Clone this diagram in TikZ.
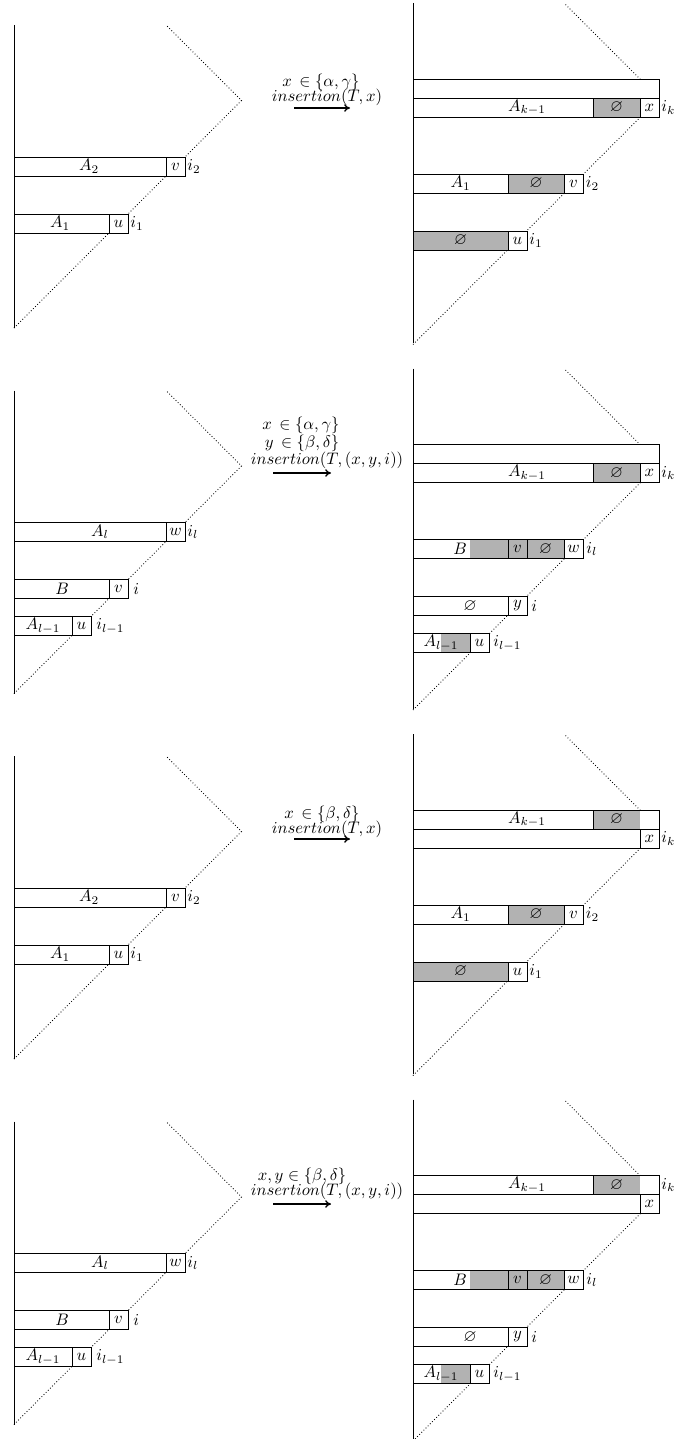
\documentclass[tikz,border=0pt]{standalone}
\usepackage{amssymb}
\usetikzlibrary{arrows.meta}
\tikzset{
  axisline/.style={line width=0.6pt},
  diagline/.style={line width=0.5pt, dash pattern=on 0.5pt off 1.3pt},
  barbox/.style={draw, fill=white, line width=0.5pt},
  graybox/.style={draw, fill=gray!60, line width=0.5pt},
  grayfill/.style={fill=gray!60},
  border/.style={draw, line width=0.5pt},
  lab/.style={inner sep=0pt},
  rlab/.style={inner sep=0pt, anchor=west},
  opar/.style={-{To[length=3.5pt,width=4.5pt]}, line width=0.8pt}
}
% left diagram, two rows (A_2 / A_1)
\newcommand{\leftTwo}[1]{
  \draw[axisline] (14,25) -- (14,328);
  \draw[diagline] (14,328) -- (241.5,100.5) -- (166,25);
  \draw[barbox] (14,157) rectangle (166,176);
  \draw[barbox] (166,157) rectangle (185,176);
  \node[lab] (#1A2) at (89,166.5) {$A_2$};
  \node[lab] (#1v) at (175.5,166.5) {$v$};
  \node[rlab] (#1i2) at (187,166.5) {$i_2$};
  \draw[barbox] (14,214) rectangle (109,233);
  \draw[barbox] (109,214) rectangle (128,233);
  \node[lab] (#1A1) at (60,223.5) {$A_1$};
  \node[lab] (#1u) at (118.5,223.5) {$u$};
  \node[rlab] (#1i1) at (130,223.5) {$i_1$};
}
% left diagram, three rows (A_l / B / A_{l-1})
\newcommand{\leftThree}[1]{
  \draw[axisline] (14,25) -- (14,328);
  \draw[diagline] (14,328) -- (241.5,100.5) -- (166,25);
  \draw[barbox] (14,157) rectangle (166,176);
  \draw[barbox] (166,157) rectangle (185,176);
  \node[lab] (#1Al) at (100,166.5) {$A_l$};
  \node[lab] (#1w) at (175.5,166.5) {$w$};
  \node[rlab] (#1il) at (187,166.5) {$i_l$};
  \draw[barbox] (14,214) rectangle (109,233);
  \draw[barbox] (109,214) rectangle (128,233);
  \node[lab] (#1B) at (62,223.5) {$B$};
  \node[lab] (#1v) at (118.5,223.5) {$v$};
  \node[rlab] (#1i) at (133,223.5) {$i$};
  \draw[barbox] (14,251) rectangle (72,270);
  \draw[barbox] (72,251) rectangle (91,270);
  \node[lab] (#1All) at (43,260.5) {$A_{l-1}$};
  \node[lab] (#1u) at (81.5,260.5) {$u$};
  \node[rlab] (#1ill) at (96,260.5) {$i_{l-1}$};
}
\newcommand{\rightAxis}{
  \draw[axisline] (413,3) -- (413,343);
  \draw[diagline] (413,344.5) -- (659.25,98.25) -- (564,3);
}
% top rows: x below the A_{k-1} row's end (panels 1, 2)
\newcommand{\topRowsA}[1]{
  \draw[barbox] (413,79) rectangle (659,98);
  \draw[barbox] (413,98) rectangle (659,117);
  \node[lab] (#1Ak) at (527,107.5) {$A_{k-1}$};
  \draw[graybox] (593,98) rectangle (640,117);
  \node[lab] (#1e) at (616.5,107.5) {$\varnothing$};
  \draw[barbox] (640,98) rectangle (659,117);
  \node[lab] (#1x) at (649.5,107.5) {$x$};
  \node[rlab] (#1ik) at (661,107.5) {$i_k$};
}
% top rows: A_{k-1} above, x in the row below (panels 3, 4)
\newcommand{\topRowsB}[2]{
  \draw[barbox] (413,79) rectangle (659,98);
  \fill[grayfill] (593,79) rectangle (640,98);
  \draw[border] (413,79) rectangle (659,98);
  \draw[border] (593,79) -- (593,98);
  \node[lab] (#1Ak) at (527,88.5) {$A_{k-1}$};
  \node[lab] (#1e) at (616.5,88.5) {$\varnothing$};
  \draw[barbox] (413,98) rectangle (659,117);
  \draw[barbox] (640,98) rectangle (659,117);
  \node[lab] (#1x) at (649.5,107.5) {$x$};
  \node[rlab] (#1ik) at (661,#2) {$i_k$};
}
% right rows A_1 / empty (panels 1, 3)
\newcommand{\rightTwo}[1]{
  \draw[barbox] (413,174) rectangle (583,193);
  \node[lab] (#1A1) at (460.5,183.5) {$A_1$};
  \draw[graybox] (508,174) rectangle (564,193);
  \node[lab] (#1e1) at (536,183.5) {$\varnothing$};
  \draw[barbox] (564,174) rectangle (583,193);
  \node[lab] (#1v) at (573.5,183.5) {$v$};
  \node[rlab] (#1i2) at (585.5,183.5) {$i_2$};
  \draw[graybox] (413,231) rectangle (508,250);
  \node[lab] (#1e2) at (460.5,240.5) {$\varnothing$};
  \draw[barbox] (508,231) rectangle (527,250);
  \node[lab] (#1u) at (517.5,240.5) {$u$};
  \node[rlab] (#1i1) at (529,240.5) {$i_1$};
}
% right rows B / y / A_{l-1} (panels 2, 4)
\newcommand{\rightThree}[1]{
  \fill[white] (413,174) rectangle (508,193);
  \fill[grayfill] (470,174) rectangle (508,193);
  \draw[border] (413,174) rectangle (508,193);
  \node[lab] (#1B) at (460,183.5) {$B$};
  \draw[graybox] (508,174) rectangle (527,193);
  \node[lab] (#1v) at (517.5,183.5) {$v$};
  \draw[graybox] (527,174) rectangle (564,193);
  \node[lab] (#1e1) at (545.5,183.5) {$\varnothing$};
  \draw[barbox] (564,174) rectangle (583,193);
  \node[lab] (#1w) at (573.5,183.5) {$w$};
  \node[rlab] (#1il) at (586,183.5) {$i_l$};
  \draw[barbox] (413,231) rectangle (508,250);
  \node[lab] (#1e2) at (470,240.5) {$\varnothing$};
  \draw[barbox] (508,231) rectangle (527,250);
  \node[lab] (#1y) at (517.5,240.5) {$y$};
  \node[rlab] (#1i) at (531,240.5) {$i$};
  \fill[white] (413,268) rectangle (470,287);
  \fill[grayfill] (441,268) rectangle (470,287);
  \draw[border] (413,268) rectangle (470,287);
  \node[lab] (#1All) at (441,277.5) {$A_{l-1}$};
  \draw[barbox] (470,268) rectangle (489,287);
  \node[lab] (#1u) at (479.5,277.5) {$u$};
  \node[rlab] (#1ill) at (493,277.5) {$i_{l-1}$};
}
\begin{document}
\begin{tikzpicture}[x=0.6pt,y=-0.6pt]
\useasboundingbox (0,0) rectangle (675,1439);
% ---------- panel 1 ----------
\begin{scope}
  \leftTwo{pa}
  \rightAxis
  \topRowsA{pa}
  \rightTwo{pa}
  \node[lab] (paT1) at (321,82) {$x\,\in \{\alpha,\gamma\}$};
  \node[lab] (paT2) at (327,97) {$insertion(T,x)$};
  \coordinate (paS) at (294,108);
  \coordinate (paE) at (350,108);
  \draw[opar] (paS) -- (paE);
\end{scope}
% ---------- panel 2 ----------
\begin{scope}[shift={(0,365.5)}]
  \leftThree{pb}
  \rightAxis
  \topRowsA{pb}
  \rightThree{pb}
  \node[lab] (pbT1) at (301,60) {$x\,\in \{\alpha,\gamma\}$};
  \node[lab] (pbT2) at (302,77.5) {$y\,\in \{\beta,\delta\}$};
  \node[lab] (pbT3) at (327,94.5) {$insertion(T,(x,y,i))$};
  \coordinate (pbS) at (273,107.5);
  \coordinate (pbE) at (331,107.5);
  \draw[opar] (pbS) -- (pbE);
\end{scope}
% ---------- panel 3 ----------
\begin{scope}[shift={(0,731)}]
  \leftTwo{pc}
  \rightAxis
  \topRowsB{pc}{107.5}
  \rightTwo{pc}
  \node[lab] (pcT1) at (322,83) {$x\,\in \{\beta,\delta\}$};
  \node[lab] (pcT2) at (327,98) {$insertion(T,x)$};
  \coordinate (pcS) at (294,108);
  \coordinate (pcE) at (350,108);
  \draw[opar] (pcS) -- (pcE);
\end{scope}
% ---------- panel 4 ----------
\begin{scope}[shift={(0,1096.5)}]
  \leftThree{pd}
  \rightAxis
  \topRowsB{pd}{88.5}
  \rightThree{pd}
  \node[lab] (pdT1) at (302,80) {$x,y \in \{\beta,\delta\}$};
  \node[lab] (pdT2) at (327,95) {$insertion(T,(x,y,i))$};
  \coordinate (pdS) at (273,107.5);
  \coordinate (pdE) at (331,107.5);
  \draw[opar] (pdS) -- (pdE);
\end{scope}
\end{tikzpicture}
\end{document}
